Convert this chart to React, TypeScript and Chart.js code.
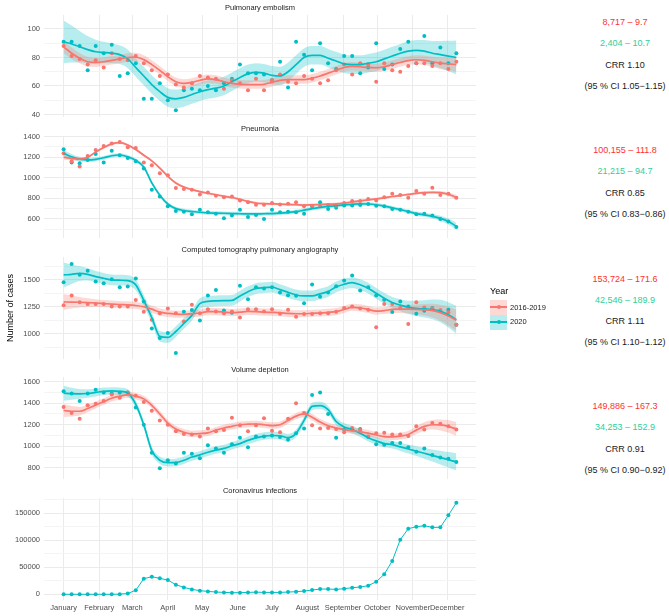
import React, { useEffect, useRef } from "react";
import { Chart, registerables } from "chart.js";
Chart.register(...registerables);

const RED = "#F8766D";
const TEAL = "#00BFC4";
const RED_FILL = "rgba(248,118,109,0.28)";
const TEAL_FILL = "rgba(0,191,196,0.28)";
const FONT = "'Liberation Sans', Arial, Helvetica, sans-serif";

// ---- x axis (days since 1 January, weekly observations) ----
const weekDays = [
  0, 7, 14, 21, 28, 35, 42, 49, 56, 63, 70, 77, 84, 91, 98, 105, 112, 119, 126, 133,
  140, 147, 154, 161, 168, 175, 182, 189, 196, 203, 210, 217, 224, 231, 238, 245, 252, 259, 266, 273,
  280, 287, 294, 301, 308, 315, 322, 329, 336, 343,
];
const monthNames = ["January", "February", "March", "April", "May", "June", "July", "August", "September", "October", "November", "December"];
const monthStartDays = [0, 31, 60, 91, 121, 152, 182, 213, 244, 274, 305, 335];
const X_MIN = -17.15;
const X_MAX = 360.15;

const seriesNames = ["2016-2019", "2020"];

// ---- Pulmonary embolism ----
const peOldPoints = [88, 81, 79, 75, 78, 73, 83, 79, 78, 81, 76, 71, 67, 68, 61, 59, 62, 67, 66, 65, 58, 64, 62, 57, 65, 57, 64, 68, 63, 62, 67, 65, 62, 64, 71, 75, 68, 76, 75, 63, 76, 71, 70, 74, 76, 76, 74, 76, 72, 77];
const peOldFit = [87.5, 83, 79.5, 77, 76.5, 77, 78, 79, 80, 80.3, 78.5, 75, 71, 66.5, 63, 61.8, 62.5, 64, 65, 64.5, 63, 61.8, 61.2, 61, 61, 61.2, 62.5, 64, 64.5, 64.5, 64.5, 65.5, 67, 69, 71, 73, 73.8, 73.5, 73, 72.8, 73.5, 75, 76.5, 77.8, 78.4, 78, 77, 76, 75.5, 75];
const peOldSe = [4.5, 4, 3.6, 3.3, 3.1, 3, 3, 3, 3, 3, 3, 3, 3, 3, 3, 3, 3, 3, 3, 3, 3, 3, 3, 3, 3, 3, 3, 3, 3, 3, 3, 3, 3, 3, 3, 3, 3, 3, 3, 3, 3, 3, 3, 3, 3.1, 3.3, 3.6, 4, 4.5, 5];
const peNewPoints = [91, 91, 88, 71, 88, 83, 89, 67, 69, 76, 51, 51, 62, 50, 43, 57, 58, 57, 60, 57, 62, 65, 75, 69, 69, 68, 64, 77, 59, 91, 82, 71, 90, 76, 72, 81, 81, 69, 73, 90, 72, 75, 86, 91, 76, 95, 76, 87, 76, 83];
const peNewFit = [91, 89.5, 87.5, 85.5, 84, 83.5, 83, 82, 79, 73, 67, 61, 56, 52, 51, 52, 54, 56, 57.5, 58.5, 60, 63, 66, 68.5, 69.5, 69, 67.5, 67, 70, 75, 80, 81.5, 81.5, 79.5, 77.5, 75.5, 75, 75, 76, 77, 79, 81, 83, 84.5, 85, 84.5, 83, 82, 81, 80];
const peNewSe = [15, 13, 11, 9.5, 8.5, 7.5, 7, 6.5, 6.5, 6.5, 6.5, 6.5, 6.5, 6.5, 6.5, 6.5, 6.5, 6.5, 6.5, 6.5, 6.5, 6.5, 6.5, 6.5, 6.5, 6.5, 6.5, 6.5, 6.5, 6.5, 6.5, 6.5, 6.5, 6.5, 6.5, 6.5, 6.5, 6.5, 6.5, 6.5, 6.5, 6.5, 6.5, 6.8, 7.2, 7.8, 8.6, 9.6, 10.7, 12];
const peTicks = [40, 50, 60, 70, 80, 90, 100];
const peMajor = [40, 60, 80, 100];

// ---- Pneumonia ----
const pnOldPoints = [1239, 1161, 1110, 1213, 1271, 1310, 1335, 1348, 1297, 1290, 1148, 1122, 1045, 1026, 900, 890, 883, 838, 858, 825, 812, 819, 780, 761, 738, 738, 754, 741, 748, 761, 722, 729, 729, 735, 729, 754, 774, 774, 793, 780, 812, 845, 832, 806, 871, 845, 903, 832, 845, 806];
const pnOldFit = [1200, 1190, 1182, 1200, 1250, 1295, 1330, 1342, 1320, 1275, 1220, 1165, 1095, 1015, 950, 910, 885, 865, 850, 835, 820, 808, 790, 770, 755, 748, 746, 744, 741, 738, 735, 737, 740, 743, 747, 755, 765, 775, 785, 795, 805, 818, 828, 838, 848, 855, 858, 855, 840, 810];
const pnOldSe = [25, 20, 16, 13, 12, 12, 12, 12, 12, 12, 12, 12, 12, 12, 12, 12, 12, 12, 12, 12, 12, 12, 12, 12, 12, 12, 12, 12, 12, 12, 12, 12, 12, 12, 12, 12, 12, 12, 12, 12, 12, 12, 12, 12, 12, 13, 14, 16, 19, 23];
const pnNewPoints = [1277, 1148, 1142, 1174, 1232, 1148, 1264, 1219, 1193, 1161, 1090, 884, 819, 722, 677, 670, 645, 690, 664, 651, 606, 632, 690, 619, 638, 600, 690, 664, 670, 664, 651, 722, 761, 696, 709, 730, 730, 735, 745, 729, 722, 696, 690, 670, 645, 651, 632, 600, 574, 522];
const pnNewFit = [1239, 1205, 1182, 1175, 1180, 1195, 1215, 1222, 1205, 1170, 1105, 950, 830, 745, 700, 682, 672, 665, 658, 657, 655, 652, 650, 648, 648, 650, 652, 656, 662, 670, 685, 700, 712, 722, 730, 736, 742, 747, 745, 738, 725, 708, 690, 672, 652, 640, 625, 605, 575, 528];
const pnNewSe = [35, 28, 22, 19, 18, 18, 18, 18, 18, 18, 18, 18, 18, 18, 18, 18, 18, 18, 18, 18, 18, 18, 18, 18, 18, 18, 18, 18, 18, 18, 18, 18, 18, 18, 18, 18, 18, 18, 18, 18, 18, 18, 18, 18, 19, 20, 22, 25, 29, 34];
const pnTicks = [500, 600, 700, 800, 900, 1000, 1100, 1200, 1300, 1400];
const pnMajor = [600, 800, 1000, 1200, 1400];

// ---- Computed tomography pulmonary angiography ----
const ctOldPoints = [1265, 1355, 1293, 1275, 1275, 1275, 1253, 1253, 1253, 1312, 1204, 1130, 1191, 1235, 1191, 1114, 1269, 1190, 1228, 1207, 1191, 1207, 1151, 1228, 1228, 1207, 1228, 1185, 1222, 1157, 1182, 1182, 1191, 1191, 1204, 1238, 1253, 1235, 1222, 1059, 1275, 1275, 1238, 1090, 1293, 1244, 1235, 1220, 1200, 1083];
const ctOldFit = [1295, 1294, 1292, 1289, 1285, 1280, 1275, 1271, 1268, 1262, 1250, 1228, 1200, 1188, 1182, 1180, 1185, 1192, 1205, 1205, 1200, 1195, 1200, 1207, 1205, 1200, 1198, 1195, 1188, 1185, 1185, 1190, 1192, 1198, 1205, 1225, 1245, 1240, 1225, 1210, 1215, 1225, 1228, 1228, 1226, 1222, 1215, 1195, 1165, 1125];
const ctOldSe = [75, 60, 48, 40, 36, 34, 33, 33, 33, 33, 33, 33, 33, 33, 33, 33, 33, 33, 33, 33, 33, 33, 33, 33, 33, 33, 33, 33, 33, 33, 33, 33, 33, 33, 33, 33, 33, 33, 33, 33, 33, 34, 36, 40, 46, 54, 64, 75, 88, 100];
const ctNewPoints = [1478, 1648, 1549, 1586, 1485, 1469, 1506, 1432, 1438, 1512, 1300, 1049, 960, 1006, 821, 1204, 1219, 1123, 1355, 1407, 1215, 1195, 1445, 1320, 1432, 1420, 1432, 1383, 1358, 1352, 1284, 1457, 1343, 1383, 1440, 1494, 1540, 1401, 1432, 1355, 1315, 1201, 1299, 1253, 1185, 1213, 1238, 1210, 1222, 1083];
const ctNewFit = [1546, 1552, 1560, 1552, 1531, 1515, 1500, 1497, 1494, 1454, 1310, 1150, 975, 965, 1020, 1095, 1170, 1280, 1300, 1305, 1307, 1309, 1350, 1390, 1420, 1428, 1432, 1410, 1385, 1360, 1352, 1352, 1370, 1392, 1435, 1460, 1475, 1455, 1423, 1375, 1330, 1290, 1265, 1245, 1235, 1230, 1225, 1210, 1175, 1130];
const ctNewSe = [115, 90, 70, 58, 52, 50, 50, 50, 50, 50, 50, 50, 50, 50, 50, 50, 50, 50, 50, 50, 50, 50, 50, 50, 50, 50, 50, 50, 50, 50, 50, 50, 50, 50, 50, 50, 50, 50, 50, 50, 50, 52, 56, 62, 70, 80, 92, 105, 118, 130];
const ctTicks = [875, 1000, 1125, 1250, 1375, 1500, 1625];
const ctMajor = [1000, 1250, 1500];

// ---- Volume depletion ----
const vdOldPoints = [1365, 1310, 1255, 1380, 1395, 1420, 1480, 1450, 1500, 1470, 1410, 1330, 1240, 1200, 1140, 1115, 1110, 1090, 1165, 1140, 1150, 1265, 1195, 1140, 1195, 1260, 1145, 1130, 1255, 1400, 1310, 1195, 1165, 1170, 1160, 1130, 1170, 1150, 1090, 1120, 1125, 1110, 1110, 1095, 1185, 1155, 1215, 1210, 1185, 1155];
const vdOldFit = [1332, 1325, 1325, 1350, 1384, 1415, 1446, 1465, 1477, 1465, 1440, 1380, 1300, 1215, 1160, 1130, 1115, 1118, 1125, 1150, 1170, 1185, 1200, 1205, 1207, 1200, 1192, 1200, 1240, 1280, 1300, 1270, 1225, 1190, 1170, 1155, 1145, 1135, 1122, 1105, 1090, 1088, 1095, 1110, 1150, 1185, 1200, 1198, 1185, 1160];
const vdOldSe = [60, 48, 40, 35, 32, 30, 30, 30, 30, 30, 30, 30, 30, 30, 30, 30, 30, 30, 30, 30, 30, 30, 30, 30, 30, 30, 30, 30, 30, 30, 30, 30, 30, 30, 30, 30, 30, 30, 30, 30, 30, 30, 31, 33, 36, 40, 45, 51, 58, 65];
const vdNewPoints = [1510, 1490, 1420, 1490, 1525, 1500, 1490, 1500, 1500, 1360, 1200, 940, 795, 870, 840, 940, 930, 890, 1010, 980, 940, 1020, 1080, 990, 1090, 1090, 1100, 1085, 1060, 1120, 1165, 1475, 1500, 1300, 1080, 1155, 1155, 1160, 1085, 1020, 1015, 1030, 1030, 990, 950, 980, 920, 895, 885, 855];
const vdNewFit = [1492, 1488, 1486, 1490, 1500, 1510, 1514, 1510, 1495, 1390, 1200, 960, 870, 848, 850, 870, 900, 920, 945, 965, 980, 1005, 1025, 1055, 1078, 1095, 1100, 1098, 1080, 1120, 1240, 1370, 1378, 1340, 1230, 1180, 1155, 1120, 1080, 1050, 1025, 1015, 995, 975, 955, 935, 915, 895, 875, 855];
const vdNewSe = [70, 56, 46, 40, 37, 35, 35, 35, 35, 35, 35, 35, 35, 35, 35, 35, 35, 35, 35, 35, 35, 35, 35, 35, 35, 35, 35, 35, 35, 35, 35, 35, 35, 35, 35, 35, 35, 35, 35, 35, 35, 36, 38, 41, 45, 50, 56, 63, 71, 80];
const vdTicks = [800, 900, 1000, 1100, 1200, 1300, 1400, 1500, 1600];
const vdMajor = [800, 1000, 1200, 1400, 1600];

// ---- Coronavirus infections ----
const covidPoints = [0, 0, 0, 0, 0, 0, 0, 300, 1500, 7500, 28900, 32600, 29500, 26400, 17800, 12800, 9100, 6700, 5400, 4200, 3500, 3000, 3000, 3500, 4000, 3500, 3500, 3500, 4200, 4800, 6000, 7900, 9700, 9700, 9100, 10400, 12200, 13500, 15900, 23300, 37000, 61700, 101000, 121500, 125200, 127000, 124000, 124000, 146300, 169600];
const covidTicks = [0, 25000, 50000, 75000, 100000, 125000, 150000, 175000];
const covidMajor = [0, 50000, 100000, 150000];

// ---- annotation texts ----
const annotations = [
  ["8,717 – 9.7", "2,404 – 10.7", "CRR 1.10", "(95 % CI 1.05−1.15)"],
  ["100,155 – 111.8", "21,215 – 94.7", "CRR 0.85", "(95 % CI 0.83−0.86)"],
  ["153,724 – 171.6", "42,546 – 189.9", "CRR 1.11", "(95 % CI 1.10−1.12)"],
  ["149,886 – 167.3", "34,253 – 152.9", "CRR 0.91", "(95 % CI 0.90−0.92)"],
];

type Smooth = { points: number[]; fit: number[]; se: number[]; color: string; fill: string };
type PanelSpec = {
  title: string;
  top: number;
  height: number;
  min: number;
  max: number;
  ticks: number[];
  major: number[];
  smooths?: Smooth[];
  line?: number[];
  bottom?: boolean;
};

const panels: PanelSpec[] = [
  {
    title: "Pulmonary embolism", top: 15, height: 102, min: 38.6, max: 109.8, ticks: peTicks, major: peMajor,
    smooths: [
      { points: peOldPoints, fit: peOldFit, se: peOldSe, color: RED, fill: RED_FILL },
      { points: peNewPoints, fit: peNewFit, se: peNewSe, color: TEAL, fill: TEAL_FILL },
    ],
  },
  {
    title: "Pneumonia", top: 136, height: 102, min: 419, max: 1407, ticks: pnTicks, major: pnMajor,
    smooths: [
      { points: pnOldPoints, fit: pnOldFit, se: pnOldSe, color: RED, fill: RED_FILL },
      { points: pnNewPoints, fit: pnNewFit, se: pnNewSe, color: TEAL, fill: TEAL_FILL },
    ],
  },
  {
    title: "Computed tomography pulmonary angiography", top: 257, height: 102, min: 769, max: 1713, ticks: ctTicks, major: ctMajor,
    smooths: [
      { points: ctOldPoints, fit: ctOldFit, se: ctOldSe, color: RED, fill: RED_FILL },
      { points: ctNewPoints, fit: ctNewFit, se: ctNewSe, color: TEAL, fill: TEAL_FILL },
    ],
  },
  {
    title: "Volume depletion", top: 377, height: 102, min: 701, max: 1643, ticks: vdTicks, major: vdMajor,
    smooths: [
      { points: vdOldPoints, fit: vdOldFit, se: vdOldSe, color: RED, fill: RED_FILL },
      { points: vdNewPoints, fit: vdNewFit, se: vdNewSe, color: TEAL, fill: TEAL_FILL },
    ],
  },
  {
    title: "Coronavirus infections", top: 498, height: 102, min: -10555, max: 178333, ticks: covidTicks, major: covidMajor,
    line: covidPoints, bottom: true,
  },
];

const PAD_T = 10;
const CANVAS_W = 520;
const Y_AXIS_W = 44;

function xy(vals: number[]) {
  return weekDays.map((d, i) => ({ x: d, y: vals[i] }));
}

function buildConfig(spec: PanelSpec): any {
  const datasets: any[] = [];
  (spec.smooths || []).forEach((s) => {
    datasets.push({
      data: xy(s.fit.map((v, i) => v - s.se[i])),
      borderWidth: 0, pointRadius: 0, fill: false, order: 3,
      cubicInterpolationMode: "monotone", borderColor: "rgba(0,0,0,0)",
    });
    datasets.push({
      data: xy(s.fit.map((v, i) => v + s.se[i])),
      borderWidth: 0, pointRadius: 0, fill: "-1", backgroundColor: s.fill, order: 3,
      cubicInterpolationMode: "monotone", borderColor: "rgba(0,0,0,0)",
    });
  });
  (spec.smooths || []).forEach((s) => {
    datasets.push({
      data: xy(s.points), showLine: false, pointRadius: 2, pointBackgroundColor: s.color,
      pointBorderWidth: 0, pointHoverRadius: 2, order: 2,
    });
  });
  (spec.smooths || []).forEach((s) => {
    datasets.push({
      data: xy(s.fit), borderColor: s.color, borderWidth: 1.7, pointRadius: 0, fill: false,
      cubicInterpolationMode: "monotone", order: 1,
    });
  });
  if (spec.line) {
    datasets.push({
      data: xy(spec.line), borderColor: TEAL, borderWidth: 1, pointRadius: 2,
      pointBackgroundColor: TEAL, pointBorderWidth: 0, tension: 0, fill: false, order: 1,
    });
  }
  const isBottom = !!spec.bottom;
  return {
    type: "line",
    data: { datasets },
    options: {
      responsive: false,
      animation: false,
      events: [],
      layout: { padding: { top: PAD_T, bottom: isBottom ? 0 : 8, left: 0, right: CANVAS_W - 476 } },
      plugins: { legend: { display: false }, tooltip: { enabled: false }, title: { display: false } },
      scales: {
        x: {
          type: "linear",
          min: X_MIN,
          max: X_MAX,
          afterBuildTicks: (s: any) => {
            s.ticks = monthStartDays.map((v) => ({ value: v }));
          },
          afterFit: (s: any) => {
            s.height = isBottom ? 16 : 0;
          },
          grid: { color: "#EBEBEB", lineWidth: 1, drawTicks: false },
          border: { display: false },
          ticks: {
            display: isBottom,
            autoSkip: false,
            maxRotation: 0,
            minRotation: 0,
            padding: 3,
            color: "#4D4D4D",
            font: { family: FONT, size: 7.5 },
            callback: (_v: any, i: number) => monthNames[i],
          },
        },
        y: {
          type: "linear",
          min: spec.min,
          max: spec.max,
          afterBuildTicks: (s: any) => {
            s.ticks = spec.ticks.map((v) => ({ value: v }));
          },
          afterFit: (s: any) => {
            s.width = Y_AXIS_W;
          },
          grid: {
            color: (ctx: any) => (ctx.tick && spec.major.includes(ctx.tick.value) ? "#EBEBEB" : "#F4F4F4"),
            lineWidth: 1,
            drawTicks: false,
          },
          border: { display: false },
          ticks: {
            autoSkip: false,
            padding: 4,
            color: "#4D4D4D",
            font: { family: FONT, size: 7.5 },
            callback: (v: any) => (spec.major.includes(Number(v)) ? String(v) : ""),
          },
        },
      },
    },
  };
}

function Panel({ spec }: { spec: PanelSpec }) {
  const ref = useRef<HTMLCanvasElement>(null);
  const h = PAD_T + spec.height + (spec.bottom ? 16 : 8);
  useEffect(() => {
    const chart = new Chart(ref.current as HTMLCanvasElement, buildConfig(spec));
    return () => chart.destroy();
  }, []);
  return (
    <canvas
      ref={ref}
      width={CANVAS_W}
      height={h}
      style={{ position: "absolute", left: 0, top: spec.top - PAD_T, width: CANVAS_W, height: h }}
    />
  );
}

function LegendKey({ color, fill, top }: { color: string; fill: string; top: number }) {
  return (
    <div style={{ position: "absolute", left: 490, top, width: 17, height: 15, background: fill }}>
      <div style={{ position: "absolute", left: 0, top: 6.6, width: 17, height: 1.7, background: color }} />
      <div style={{ position: "absolute", left: 6.5, top: 5.5, width: 4, height: 4, borderRadius: 2, background: color }} />
    </div>
  );
}

export default function App() {
  const annTop = [22.7, 150.7, 279, 406.7];
  const annColors = ["#FF3030", "#2DCF9C", "#1A1A1A", "#1A1A1A"];
  return (
    <div
      style={{
        position: "absolute", left: 0, top: 0, width: 669, height: 616, background: "#FFFFFF",
        fontFamily: FONT, overflow: "hidden",
      }}
    >
      {panels.map((p, i) => (
        <Panel key={i} spec={p} />
      ))}
      {panels.map((p, i) => (
        <div
          key={"t" + i}
          style={{
            position: "absolute", left: 44, width: 432, top: p.top - 12, height: 9, lineHeight: "9px",
            textAlign: "center", fontSize: 7.5, color: "#1A1A1A", whiteSpace: "nowrap",
          }}
        >
          {p.title}
        </div>
      ))}
      <div
        style={{
          position: "absolute", left: 10 - 60, top: 308 - 6, width: 120, height: 12, lineHeight: "12px",
          textAlign: "center", fontSize: 9, color: "#000000", transform: "rotate(-90deg)", whiteSpace: "nowrap",
        }}
      >
        Number of cases
      </div>
      <div style={{ position: "absolute", left: 490, top: 285.5, fontSize: 9, lineHeight: "11px", color: "#000000" }}>Year</div>
      <LegendKey color={RED} fill={RED_FILL} top={299.5} />
      <LegendKey color={TEAL} fill={TEAL_FILL} top={314.5} />
      <div style={{ position: "absolute", left: 510, top: 302.5, fontSize: 7.5, lineHeight: "9px", color: "#1A1A1A" }}>{seriesNames[0]}</div>
      <div style={{ position: "absolute", left: 510, top: 317.2, fontSize: 7.5, lineHeight: "9px", color: "#1A1A1A" }}>{seriesNames[1]}</div>
      {annotations.map((group, gi) =>
        group.map((txt, li) => (
          <div
            key={"a" + gi + "-" + li}
            style={{
              position: "absolute", left: 555, width: 140, top: annTop[gi] + li * 21.2 - 5.5, height: 11,
              lineHeight: "11px", textAlign: "center", fontSize: 9, color: annColors[li], whiteSpace: "nowrap",
            }}
          >
            {txt}
          </div>
        ))
      )}
    </div>
  );
}
